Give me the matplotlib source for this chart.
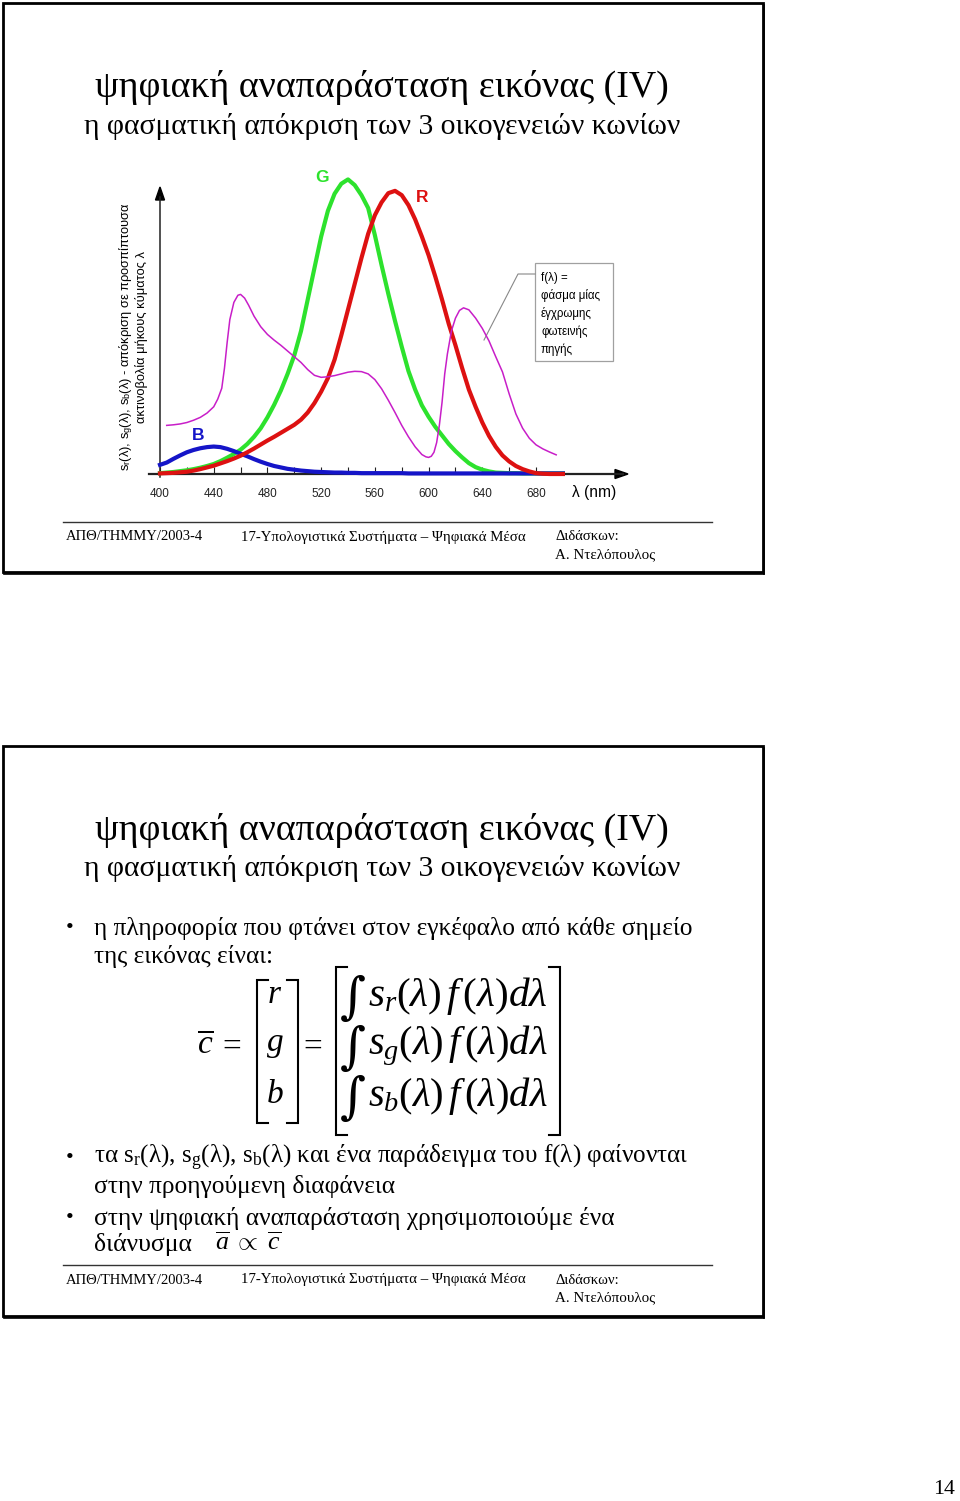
import matplotlib
matplotlib.use("Agg")
import matplotlib.pyplot as plt
from matplotlib.patches import Rectangle, Polygon

plt.rcParams['mathtext.fontset'] = 'custom'
plt.rcParams['mathtext.rm'] = 'Liberation Serif'
plt.rcParams['mathtext.it'] = 'Liberation Serif:italic'
plt.rcParams['mathtext.bf'] = 'Liberation Serif:bold'
plt.rcParams['mathtext.sf'] = 'Liberation Sans'
SERIF = ['Liberation Serif', 'DejaVu Serif']
SANS = ['Liberation Sans', 'DejaVu Sans']
plt.rcParams['font.family'] = SANS

# ---------------- data ----------------
wavelength = list(range(400, 701, 5))
s_green = [0.003, 0.005, 0.007, 0.010, 0.013, 0.017, 0.022, 0.028, 0.035, 0.045,
           0.057, 0.070, 0.085, 0.105, 0.130, 0.160, 0.198, 0.242, 0.292, 0.350,
           0.415, 0.500, 0.610, 0.720, 0.830, 0.920, 0.980, 1.015, 1.030, 1.010,
           0.975, 0.930, 0.835, 0.730, 0.630, 0.535, 0.445, 0.360, 0.295, 0.240,
           0.200, 0.165, 0.135, 0.105, 0.080, 0.058, 0.038, 0.024, 0.015, 0.009,
           0.005, 0.004, 0.003, 0.003, 0.002, 0.002, 0.002, 0.002, 0.002, 0.002,
           0.002]
s_red = [0.002, 0.003, 0.004, 0.006, 0.008, 0.012, 0.017, 0.023, 0.029, 0.037,
         0.045, 0.054, 0.064, 0.076, 0.089, 0.103, 0.117, 0.130, 0.144, 0.158,
         0.172, 0.190, 0.215, 0.248, 0.288, 0.335, 0.400, 0.485, 0.575, 0.665,
         0.755, 0.840, 0.905, 0.950, 0.982, 0.990, 0.975, 0.940, 0.890, 0.830,
         0.765, 0.690, 0.610, 0.525, 0.450, 0.370, 0.295, 0.235, 0.180, 0.133,
         0.095, 0.065, 0.044, 0.028, 0.017, 0.009, 0.003, 0.001, 0.000, 0.000,
         0.000]
s_blue = [0.032, 0.040, 0.053, 0.065, 0.076, 0.084, 0.090, 0.094, 0.096, 0.094,
          0.088, 0.080, 0.071, 0.062, 0.052, 0.043, 0.035, 0.028, 0.023, 0.018,
          0.015, 0.012, 0.010, 0.008, 0.007, 0.006, 0.005, 0.005, 0.004, 0.004,
          0.003, 0.003, 0.003, 0.003, 0.003, 0.003, 0.003, 0.002, 0.002, 0.002,
          0.002, 0.002, 0.002, 0.002, 0.002, 0.002, 0.002, 0.002, 0.002, 0.002,
          0.002, 0.002, 0.002, 0.002, 0.002, 0.002, 0.002, 0.002, 0.002, 0.002,
          0.002]
wl_f = [405, 410, 415, 420, 425, 430, 435, 440, 443, 446, 448, 450, 452, 455, 458,
        460, 463, 466, 470, 475, 480, 485, 490, 495, 500, 505, 510, 515, 520, 525,
        530, 535, 540, 545, 550, 555, 560, 565, 570, 575, 580, 585, 590, 595, 598,
        600, 602, 604, 606, 608, 610, 612, 614, 617, 620, 623, 626, 630, 635, 640,
        645, 650, 655, 660, 665, 670, 675, 680, 685, 690, 695]
f_light = [0.170, 0.172, 0.175, 0.180, 0.188, 0.198, 0.213, 0.235, 0.262, 0.300,
           0.370, 0.460, 0.540, 0.600, 0.625, 0.628, 0.615, 0.590, 0.552, 0.515,
           0.488, 0.468, 0.450, 0.430, 0.410, 0.390, 0.365, 0.345, 0.338, 0.340,
           0.344, 0.350, 0.356, 0.359, 0.358, 0.350, 0.330, 0.298, 0.258, 0.215,
           0.170, 0.130, 0.095, 0.068, 0.060, 0.058, 0.062, 0.076, 0.110, 0.170,
           0.250, 0.350, 0.420, 0.500, 0.545, 0.572, 0.581, 0.574, 0.545, 0.509,
           0.465, 0.410, 0.357, 0.280, 0.210, 0.160, 0.125, 0.102, 0.088, 0.077,
           0.067]
tick_major = [400, 440, 480, 520, 560, 600, 640, 680]
tick_minor = [420, 460, 500, 540, 580, 620, 660]

curve_labels = ['G', 'R', 'B']
ylabel_lines = [r's$_\mathsf{r}$(λ), s$_\mathsf{g}$(λ), s$_\mathsf{b}$(λ) - απόκριση σε προσπίπτουσα',
                'ακτινοβολία μήκους κύματος λ']
note_lines = ['f(λ) =', 'φάσμα μίας', 'έγχρωμης', 'φωτεινής', 'πηγής']
title = 'ψηφιακή αναπαράσταση εικόνας (IV)'
subtitle = 'η φασματική απόκριση των 3 οικογενειών κωνίων'
footer = ['ΑΠΘ/ΤΗΜΜΥ/2003-4', '17-Υπολογιστικά Συστήματα – Ψηφιακά Μέσα',
          'Διδάσκων:', 'Α. Ντελόπουλος']

# ---------------- figure ----------------
W, H = 960, 1501
fig = plt.figure(figsize=(W / 100, H / 100), dpi=100)
fig.patch.set_facecolor('white')
pg = fig.add_axes([0, 0, 1, 1])
pg.set_xlim(0, W)
pg.set_ylim(H, 0)
pg.axis('off')
renderer = fig.canvas.get_renderer()


def put(x, y, s, width=None, size=12, ha='left', va='center', family=SERIF,
        rot=0, **kw):
    t = pg.text(x, y, s, fontsize=size, ha=ha, va=va, family=family,
                rotation=rot, **kw)
    if width:
        bb = t.get_window_extent(renderer)
        L = bb.height if rot else bb.width
        t.set_fontsize(size * width / L)
    return t


def frame(y0, y1):
    pg.add_patch(Rectangle((2.5, y0), 760, y1 - y0, fill=False, ec='black',
                           lw=2.0, zorder=5))
    pg.plot([763.5, 763.5], [y0 + 2, y1 + 1.5], color='black', lw=1.2)
    pg.plot([3.5, 763.5], [y1 + 1.5, y1 + 1.5], color='black', lw=1.2)


def header_footer(y_title, y_sub, y_line, y_foot):
    put(382, y_title, title, width=575, size=26, ha='center')
    put(382, y_sub, subtitle, width=595, size=20, ha='center')
    pg.plot([63, 712], [y_line, y_line], color='#333333', lw=1.0)
    put(66, y_foot, footer[0], width=138, size=10)
    put(241, y_foot, footer[1], width=282, size=10)
    put(555, y_foot, footer[2], width=64, size=10)
    put(555, y_foot + 18, footer[3], width=99, size=10)


# ---------- slide 1 ----------
frame(3, 572)
header_footer(87, 127, 522, 537)

X0, Y0, HPX, PXNM = 160.0, 474.0, 286.0, 1.343
al, ar, at, ab = 130, 650, 165, 485
ax = fig.add_axes([al / W, 1 - ab / H, (ar - al) / W, (ab - at) / H])
ax.set_xlim(400 + (al - X0) / PXNM, 400 + (ar - X0) / PXNM)
ax.set_ylim((Y0 - ab) / HPX, (Y0 - at) / HPX)
ax.patch.set_alpha(0)
for s in ['top', 'right']:
    ax.spines[s].set_visible(False)
ax.spines['bottom'].set_position(('data', 0))
ax.spines['bottom'].set_bounds(392, 745)
ax.spines['bottom'].set_linewidth(1.6)
ax.spines['bottom'].set_color('#222222')
ax.spines['left'].set_position(('data', 400))
ax.spines['left'].set_bounds(-0.01, 0.97)
ax.spines['left'].set_linewidth(1.1)
ax.spines['left'].set_color('#222222')
ax.set_yticks([])
ax.set_xticks(tick_major)
ax.set_xticks(tick_minor, minor=True)
ax.set_xticklabels([str(t) for t in tick_major])
ax.tick_params(axis='x', which='both', direction='in', length=5, width=0.8,
               pad=10, labelsize=8.5, colors='#222222')

ax.plot(wavelength, s_green, color='#2de22d', lw=3.0, solid_joinstyle='round', zorder=3)
ax.plot(wavelength, s_blue, color='#1515c8', lw=3.0, solid_joinstyle='round', zorder=4)
ax.plot(wavelength, s_red, color='#dd1111', lw=3.0, solid_joinstyle='round', zorder=5)
ax.plot(wl_f, f_light, color='#c81ec8', lw=1.1, solid_joinstyle='round', zorder=6)

# axis arrow heads
pg.add_patch(Polygon([[628, 474], [615, 469.5], [615, 478.5]], closed=True,
                     color='black', zorder=7))
pg.add_patch(Polygon([[160, 187], [155.5, 200], [164.5, 200]], closed=True,
                     color='black', zorder=7))

put(594, 493, 'λ (nm)', width=44, size=11, ha='center', family=SANS)
put(322, 178, curve_labels[0], size=12.5, ha='center', family=SANS,
    fontweight='bold', color='#2de22d')
put(422, 197, curve_labels[1], size=12.5, ha='center', family=SANS,
    fontweight='bold', color='#dd1111')
put(198, 435, curve_labels[2], size=12.5, ha='center', family=SANS,
    fontweight='bold', color='#1515c8')

t1 = put(126, 337, ylabel_lines[0], width=270, size=8, ha='center', family=SANS, rot=90)
t2 = put(142, 337, ylabel_lines[1], size=8, ha='center', family=SANS, rot=90)
t2.set_fontsize(t1.get_fontsize())

pg.add_patch(Rectangle((535, 263), 78, 98, fill=True, fc='white', ec='#a0a0a0',
                       lw=0.9, zorder=2))
pg.plot([535, 518, 484], [274, 274, 340], color='#888888', lw=0.8, zorder=8)
for i, line in enumerate(note_lines):
    put(541, 278 + 18 * i, line, size=8.3, family=SANS, zorder=3)

# ---------- slide 2 ----------
frame(746, 1316)
header_footer(830, 869, 1265, 1280)

put(70, 929, '•', size=16, ha='center')
put(94, 929, 'η πληροφορία που φτάνει στον εγκέφαλο από κάθε σημείο', width=599, size=18)
put(94, 957, 'της εικόνας είναι:', width=179, size=18)
put(70, 1158, '•', size=16, ha='center')
put(94, 1158, r'τα s$_\mathrm{r}$(λ), s$_\mathrm{g}$(λ), s$_\mathrm{b}$(λ) και ένα παράδειγμα του f(λ) φαίνονται',
    width=596, size=18)
put(94, 1186, 'στην προηγούμενη διαφάνεια', width=301, size=18)
put(70, 1218, '•', size=16, ha='center')
put(94, 1218, 'στην ψηφιακή αναπαράσταση χρησιμοποιούμε ένα', width=520, size=18)
put(94, 1245, 'διάνυσμα', width=98, size=18)
put(215, 1243, r'$\overline{a}\ \propto\ \overline{c}$', width=66, size=22)

# equation
put(205, 1045, r'$\overline{c}$', size=24, ha='center')
put(232, 1047, '=', size=24, ha='center')
put(313, 1047, '=', size=24, ha='center')
for yy, ch in zip([995, 1045, 1095], ['r', 'g', 'b']):
    put(275, yy, '$' + ch + '$', size=24, ha='center')
for yy, sub in zip([996, 1046, 1096], ['r', 'g', 'b']):
    put(353, yy - 2, '∫', size=36, ha='center', va='center_baseline',
        family=['DejaVu Serif'])
    put(368, yy, r'$s_{%s}(\lambda)\,f\,(\lambda)d\lambda$' % sub, width=180, size=22)


def bracket(x, y0, y1, side, lw=1.5):
    d = 11 if side == 'l' else -11
    pg.plot([x + d, x, x, x + d], [y0, y0, y1, y1], color='black', lw=lw,
            solid_joinstyle='miter')


bracket(257, 980, 1123, 'l')
bracket(298, 980, 1123, 'r')
bracket(336, 967, 1135, 'l')
bracket(560, 967, 1135, 'r')

put(944, 1490, '14', width=22, size=14, ha='center')

fig.savefig('out.png', dpi=100, facecolor='white')
